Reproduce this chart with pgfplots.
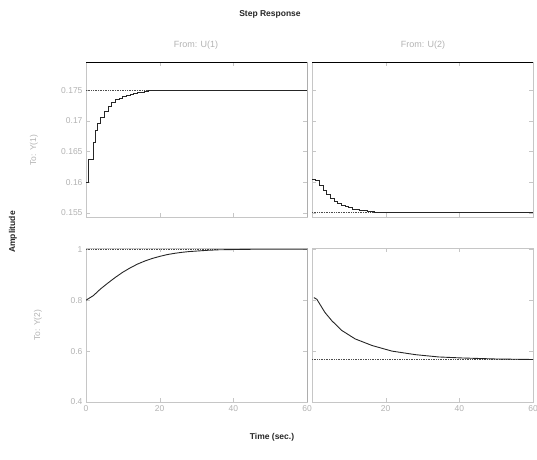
\documentclass[border=0pt]{standalone}
\usepackage{fontspec}
\setmainfont{Liberation Sans}
\usepackage{pgfplots}
\pgfplotsset{compat=1.18}

\pgfplotsset{
  panel/.style={
    scale only axis, width=221pt,
    axis line style={gray!45, line width=0.6pt},
    tick style={gray!45},
    tick align=inside,
    xmin=0, xmax=60,
    ticklabel style={font=\fontsize{8.5}{10}\selectfont, text=gray!60},
    /pgf/number format/assume math mode=true,
    /pgf/number format/fixed,
    /pgf/number format/precision=3,
  },
  toprow/.style={panel, height=155pt, ymin=0.1543, ymax=0.1796,
    ytick={0.155,0.16,0.165,0.17,0.175}, xticklabels={}},
  botrow/.style={panel, height=154pt, ymin=0.4, ymax=1.005,
    ytick={0.4,0.6,0.8,1}},
  resp/.style={black!85, line width=0.9pt},
  fin/.style={black!70, densely dotted, line width=0.7pt},
}

\begin{document}
\begin{tikzpicture}[x=1pt, y=1pt]

% From U(1) to Y(1)
\begin{axis}[toprow, at={(86pt,-62pt)}, anchor=north west, xtick={0,20,40,60}]
  \addplot[fin] coordinates {(0,0.175) (18,0.175)};
  \addplot[resp, const plot] coordinates {
    (0,0.1600) (0.6,0.1637) (2,0.1664) (2.5,0.1685) (3,0.1696) (4,0.1705)
    (5,0.1715) (6,0.1723) (7,0.1730) (8,0.1735) (9,0.1737) (10,0.1739)
    (11,0.1741) (12,0.1743) (13,0.1745) (14,0.1746) (15,0.1747) (16,0.1748)
    (17,0.1749) (18,0.1750) (60,0.1750)};
  \draw[black, line width=0.9pt] (rel axis cs:0,1) -- (rel axis cs:1,1) -- (rel axis cs:1,0);
\end{axis}

% From U(2) to Y(1)
\begin{axis}[toprow, at={(312pt,-62pt)}, anchor=north west, xtick={0,20,40,60}, yticklabels={}]
  \addplot[fin] coordinates {(0,0.155) (60,0.155)};
  \addplot[resp, const plot] coordinates {
    (0,0.1605) (1,0.1602) (2,0.1595) (3,0.1587) (4,0.1580) (5,0.1574)
    (6,0.1569) (7,0.1565) (8,0.1562) (9,0.1560) (10,0.1558) (11,0.1556)
    (12,0.1555) (13,0.1554) (14,0.1553) (15,0.1552) (17,0.1551) (19,0.1550)
    (60,0.1550)};
  \draw[black, line width=0.9pt] (rel axis cs:0,1) -- (rel axis cs:1,1);
\end{axis}

% From U(1) to Y(2)
\begin{axis}[botrow, at={(86pt,-248pt)}, anchor=north west, xtick={0,20,40,60}]
  \addplot[fin] coordinates {(0,1) (36,1)};
  \addplot[resp] coordinates {
    (0,0.800) (2,0.818) (4,0.845) (6,0.868) (8,0.890) (10,0.910) (12,0.927)
    (14,0.942) (16,0.954) (18,0.964) (20,0.972) (22,0.979) (24,0.984)
    (26,0.988) (28,0.991) (30,0.993) (33,0.996) (36,0.998) (40,0.999)
    (45,1.000) (60,1.000)};
  \draw[black, line width=0.9pt] (rel axis cs:1,1) -- (rel axis cs:1,0);
\end{axis}

% From U(2) to Y(2)
\begin{axis}[botrow, at={(312pt,-248pt)}, anchor=north west, xtick={20,40,60}, yticklabels={}]
  \addplot[fin] coordinates {(0,0.566) (60,0.566)};
  \addplot[resp] coordinates {
    (0.5,0.810) (1.3,0.804) (3.5,0.752) (5.4,0.719) (8.1,0.681) (11.7,0.648)
    (16.3,0.622) (21.7,0.600) (28.1,0.586) (34.4,0.577) (40.8,0.573)
    (50,0.569) (60,0.567)};
\end{axis}

% Titles and labels
\node[font=\bfseries\fontsize{8.5}{10}\selectfont, text=black!85] at (270,-14) {Step Response};
\node[font=\fontsize{9}{10}\selectfont, text=gray!60] at (196,-45) {From: U(1)};
\node[font=\fontsize{9}{10}\selectfont, text=gray!60] at (423,-45) {From: U(2)};
\node[font=\fontsize{8.5}{10}\selectfont, text=gray!60, rotate=90] at (34,-150) {To: Y(1)};
\node[font=\fontsize{8.5}{10}\selectfont, text=gray!60, rotate=90] at (38,-325) {To: Y(2)};
\node[font=\bfseries\fontsize{8.5}{10}\selectfont, text=black!85, rotate=90] at (13,-232) {Amplitude};
\node[font=\bfseries\fontsize{8.5}{10}\selectfont, text=black!85] at (272,-437) {Time (sec.)};

\pgfresetboundingbox
\path[use as bounding box] (0,0) rectangle (537,-459);
\end{tikzpicture}
\end{document}
